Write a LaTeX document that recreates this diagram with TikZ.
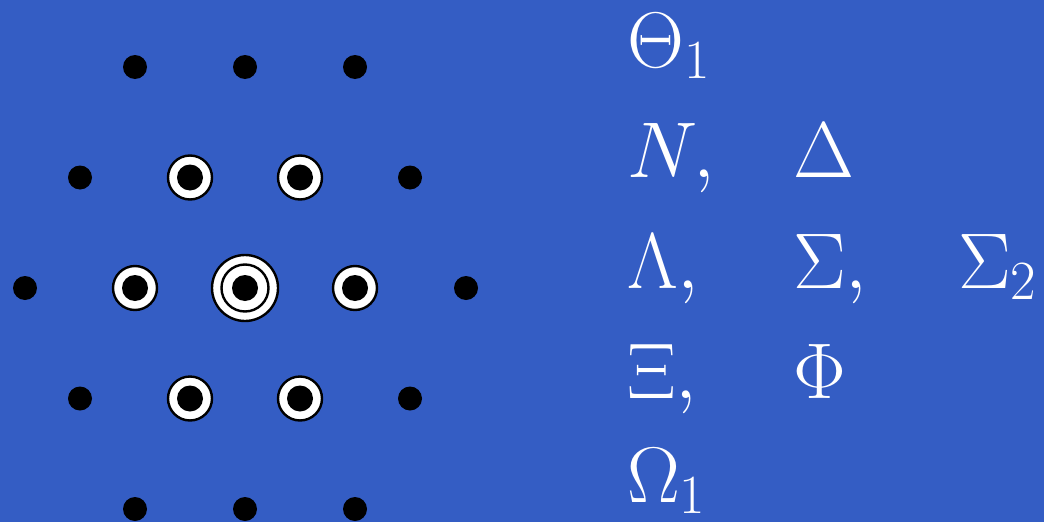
\RequirePackage{fix-cm}
\documentclass[tikz,border=0pt]{standalone}
\definecolor{bgblue}{RGB}{52,93,196}
\begin{document}
\begin{tikzpicture}[x=1pt,y=-1pt,
  dot/.style={circle,fill=black,inner sep=0pt,minimum size=24pt},
  core/.style={circle,fill=black,inner sep=0pt,minimum size=26pt},
  ring/.style={circle,draw=black,fill=white,line width=2.4pt,inner sep=0pt,minimum size=44pt},
  bigring/.style={circle,draw=black,fill=white,line width=2.4pt,inner sep=0pt,minimum size=66pt},
  midring/.style={circle,draw=black,line width=2.4pt,inner sep=0pt,minimum size=47pt},
  lbl/.style={anchor=base west,inner sep=0pt,text=white,font=\fontsize{79}{92}\selectfont}]
\fill[bgblue] (0,0) rectangle (1044,522);
\useasboundingbox (0,0) rectangle (1044,522);
% row 1
\node[dot] (a1) at (135,67) {};
\node[dot] (a2) at (245,67) {};
\node[dot] (a3) at (355,67) {};
% row 2
\node[dot] (b1) at (80,177.5) {};
\node[ring] (b2) at (190,177.5) {};
\node[core] (b2c) at (b2) {};
\node[ring] (b3) at (300,177.5) {};
\node[core] (b3c) at (b3) {};
\node[dot] (b4) at (410,177.5) {};
% row 3
\node[dot] (c1) at (25,288) {};
\node[ring] (c2) at (135,288) {};
\node[core] (c2c) at (c2) {};
\node[bigring] (c3) at (245,288) {};
\node[midring] (c3m) at (c3) {};
\node[core] (c3c) at (c3) {};
\node[ring] (c4) at (355,288) {};
\node[core] (c4c) at (c4) {};
\node[dot] (c5) at (466,288) {};
% row 4
\node[dot] (d1) at (80,398.5) {};
\node[ring] (d2) at (190,398.5) {};
\node[core] (d2c) at (d2) {};
\node[ring] (d3) at (300,398.5) {};
\node[core] (d3c) at (d3) {};
\node[dot] (d4) at (410,398.5) {};
% row 5
\node[dot] (e1) at (135,509) {};
\node[dot] (e2) at (245,509) {};
\node[dot] (e3) at (355,509) {};
% labels
\node[lbl] (t1) at (627,67) {$\Theta_1$};
\node[lbl] (t2) at (627,177.5) {$N,$};
\node[lbl] (t3) at (793,177.5) {$\Delta$};
\node[lbl] (t4) at (627,288) {$\Lambda,$};
\node[lbl] (t5) at (793,288) {$\Sigma,$};
\node[lbl] (t6) at (958,288) {$\Sigma_2$};
\node[lbl] (t7) at (627,398) {$\Xi,$};
\node[lbl] (t8) at (793,398) {$\Phi$};
\node[lbl] (t9) at (627,502) {$\Omega_1$};
\end{tikzpicture}
\end{document}
